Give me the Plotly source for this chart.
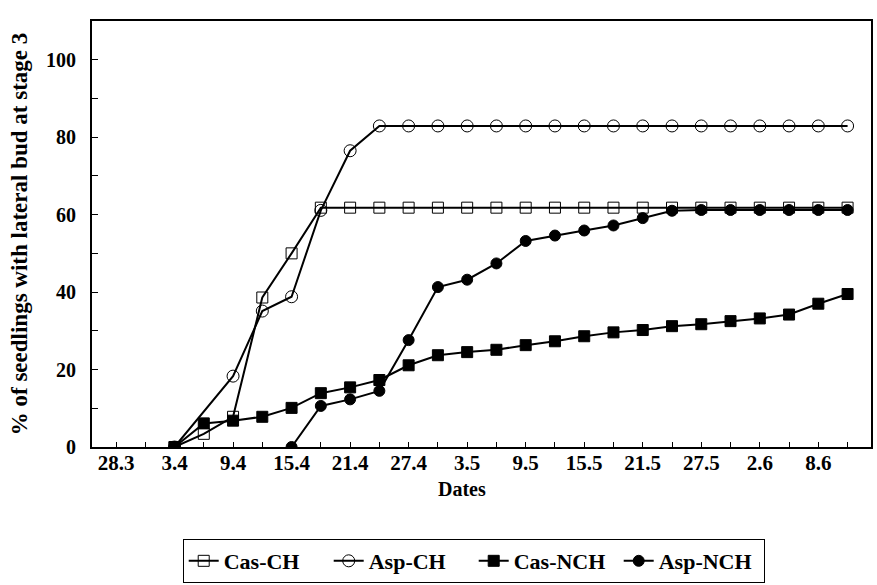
import plotly.graph_objects as go

dates = ["28.3", "31.3", "3.4", "6.4", "9.4", "12.4", "15.4", "18.4", "21.4", "24.4",
         "27.4", "30.4", "3.5", "6.5", "9.5", "12.5", "15.5", "18.5", "21.5", "24.5",
         "27.5", "30.5", "2.6", "5.6", "8.6", "11.6"]
tick_labels = ["28.3", "", "3.4", "", "9.4", "", "15.4", "", "21.4", "", "27.4", "", "3.5", "",
               "9.5", "", "15.5", "", "21.5", "", "27.5", "", "2.6", "", "8.6", ""]

cas_ch = [None, None, 0, 3.4, 7.8, 38.6, 50.0, 61.8, 61.8, 61.8, 61.8, 61.8, 61.8, 61.8,
          61.8, 61.8, 61.8, 61.8, 61.8, 61.8, 61.8, 61.8, 61.8, 61.8, 61.8, 61.8]
asp_ch = [None, None, 0, None, 18.3, 35.1, 38.8, 61.1, 76.5, 82.9, 82.9, 82.9, 82.9, 82.9,
          82.9, 82.9, 82.9, 82.9, 82.9, 82.9, 82.9, 82.9, 82.9, 82.9, 82.9, 82.9]
cas_nch = [None, None, 0, 6.1, 6.8, 7.8, 10.1, 13.9, 15.4, 17.3, 21.1, 23.7, 24.5, 25.1,
           26.3, 27.3, 28.6, 29.6, 30.2, 31.2, 31.7, 32.5, 33.2, 34.2, 37.0, 39.5]
asp_nch = [None, None, None, None, None, None, 0, 10.6, 12.3, 14.5, 27.6, 41.3, 43.2, 47.4,
           53.2, 54.6, 55.9, 57.2, 59.1, 61.0, 61.2, 61.2, 61.2, 61.2, 61.2, 61.2]

x = list(range(len(dates)))
FONT = "Liberation Serif"

fig = go.Figure()
series = [
    ("Cas-CH", cas_ch, "square-open", 11),
    ("Asp-CH", asp_ch, "circle-open", 12),
    ("Cas-NCH", cas_nch, "square", 11),
    ("Asp-NCH", asp_nch, "circle", 11),
]
for name, vals, sym, sz in series:
    fig.add_trace(go.Scatter(
        x=x, y=vals, name=name, mode="lines+markers",
        connectgaps=True,
        line=dict(color="black", width=2),
        marker=dict(symbol=sym, size=sz, color="black",
                    line=dict(color="black", width=1)),
        customdata=dates,
    ))

fig.update_layout(
    width=877, height=585,
    paper_bgcolor="white", plot_bgcolor="white",
    margin=dict(l=92, r=6, t=21, b=138, autoexpand=False),
    font=dict(family=FONT, size=20, color="black", weight="bold"),
    showlegend=True,
    legend=dict(
        orientation="h", x=0.49, xanchor="center", y=-0.216, yanchor="top",
        bordercolor="black", borderwidth=1,
        font=dict(family=FONT, size=22, color="black", weight="bold"),
        itemwidth=30, entrywidth=100,
    ),
    annotations=[dict(
        text="Dates", xref="paper", yref="paper", x=0.475, y=-0.098,
        xanchor="center", yanchor="middle", showarrow=False,
        font=dict(family=FONT, size=20, color="black", weight="bold"),
    )],
)
fig.update_xaxes(
    range=[-0.82, 25.8],
    tickmode="array", tickvals=x, ticktext=tick_labels,
    ticks="inside", ticklen=5, tickwidth=1, tickcolor="black",
    showline=True, linecolor="black", linewidth=2, mirror=True,
    showgrid=False, zeroline=False,
    ticklabelstandoff=-4,
    tickfont=dict(family=FONT, size=21, color="black", weight="bold"),
)
fig.update_yaxes(
    range=[0, 110],
    tickmode="array", tickvals=[0, 20, 40, 60, 80, 100],
    ticks="inside", ticklen=6, tickwidth=1, tickcolor="black",
    minor=dict(tickmode="array", tickvals=[10, 30, 50, 70, 90, 110],
               ticks="inside", ticklen=6, tickwidth=1, tickcolor="black"),
    showline=True, linecolor="black", linewidth=2, mirror=True,
    showgrid=False, zeroline=False,
    ticklabelstandoff=10,
    tickfont=dict(family=FONT, size=20, color="black", weight="bold"),
    title=dict(text="% of seedlings with lateral bud at stage 3",
               font=dict(family=FONT, size=23, color="black", weight="bold"),
               standoff=12),
)

fig.write_html("out.html", config={"displayModeBar": False},
               post_script="document.body.style.margin='0';document.body.style.overflow='hidden';")
